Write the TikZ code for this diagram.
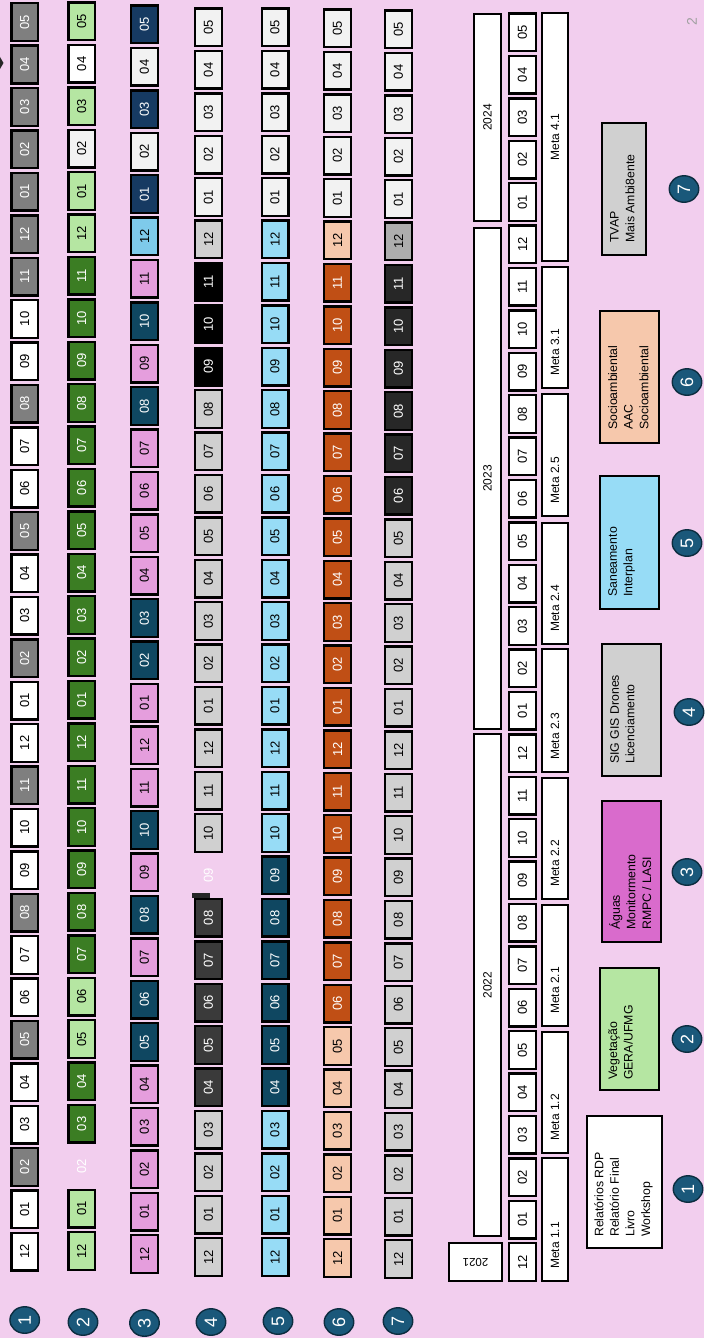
\documentclass[tikz,border=0pt]{standalone}
\usepackage{fontspec}
\setmainfont{Liberation Sans}
\usetikzlibrary{shapes.geometric}

\definecolor{bgpink}{RGB}{242,206,238}
\definecolor{cgray}{RGB}{127,127,127}
\definecolor{clgreen}{RGB}{181,230,162}
\definecolor{cdgreen}{RGB}{59,125,35}
\definecolor{cpink}{RGB}{229,158,221}
\definecolor{cdblue}{RGB}{15,71,97}
\definecolor{cnavy}{RGB}{22,58,98}
\definecolor{csky}{RGB}{126,202,235}
\definecolor{clgray}{RGB}{208,208,208}
\definecolor{cdgray}{RGB}{58,58,58}
\definecolor{coffw}{RGB}{242,242,242}
\definecolor{clblue}{RGB}{151,220,246}
\definecolor{cpeach}{RGB}{246,200,172}
\definecolor{corange}{RGB}{192,79,21}
\definecolor{cdark}{RGB}{39,39,39}
\definecolor{cmgray}{RGB}{173,173,173}
\definecolor{cmagenta}{RGB}{217,107,204}
\definecolor{cteal}{RGB}{26,88,122}
\definecolor{cteald}{RGB}{12,45,64}
\definecolor{cpage}{RGB}{160,160,160}

% one row of months: name, x, bottom y, fill styles
\newcommand{\monthcol}[4]{%
  \foreach \s [count=\k from 0] in {#4} {
    \pgfmathtruncatemacro{\mo}{mod(\k+11,12)+1}
    \node[cell, \s] (#1-\k) at (#2, {#3-42.4*\k-20}) {\ifnum\mo<10 0\fi\mo};
  }%
}

\begin{document}
\begin{tikzpicture}[x=1pt, y=-1pt,
  cell/.style={draw=black, line width=2.4pt, rotate=90, minimum width=37.6pt,
    minimum height=26.6pt, inner sep=0pt, font=\fontsize{13}{13}\selectfont},
  wht/.style={fill=white}, gry/.style={fill=cgray, text=white},
  lgrn/.style={fill=clgreen}, dgrn/.style={fill=cdgreen, text=white},
  pnk/.style={fill=cpink}, dblu/.style={fill=cdblue, text=white},
  nvy/.style={fill=cnavy, text=white}, sky/.style={fill=csky},
  lgry/.style={fill=clgray}, dgry/.style={fill=cdgray, text=white},
  blk/.style={fill=black, text=white}, offw/.style={fill=coffw},
  lblu/.style={fill=clblue}, pch/.style={fill=cpeach},
  orng/.style={fill=corange, text=white}, drk/.style={fill=cdark, text=white},
  mgry/.style={fill=cmgray}, nobox/.style={draw=none, text=white},
  yearbar/.style={draw=black, line width=2.4pt, fill=white, rotate=90,
    minimum height=26.6pt, inner sep=0pt, font=\fontsize{12}{12}\selectfont},
  metabox/.style={draw=black, line width=2.4pt, fill=white, minimum width=25.6pt, inner sep=0pt},
  metatxt/.style={rotate=90, anchor=west, inner sep=0pt, font=\fontsize{12}{12}\selectfont},
  legbox/.style={draw=black, line width=2.4pt, inner sep=0pt},
  legtxt/.style={rotate=90, anchor=north west, align=left, inner sep=0pt,
    font=\fontsize{12.3}{15.6}\selectfont},
  numcirc/.style={ellipse, draw=cteald, line width=1.4pt, fill=cteal, text=white,
    rotate=90, minimum width=26.5pt, minimum height=29.5pt, inner sep=0pt,
    font=\fontsize{18}{18}\selectfont}]
  \useasboundingbox (0,0) rectangle (704,1338);
  \fill[bgpink] (0,0) rectangle (704,1338);

  % month rows
  \monthcol{a}{24.7}{1271.7}{wht,wht,gry,wht,wht,gry,wht,wht,gry,wht,wht,gry,wht,wht,gry,wht,wht,gry,wht,wht,gry,wht,wht,gry,gry,gry,gry,gry,gry,gry}
  \monthcol{b}{81.7}{1271}{lgrn,lgrn,nobox,dgrn,dgrn,lgrn,lgrn,dgrn,dgrn,dgrn,dgrn,dgrn,dgrn,dgrn,dgrn,dgrn,dgrn,dgrn,dgrn,dgrn,dgrn,dgrn,dgrn,dgrn,lgrn,lgrn,offw,lgrn,wht,lgrn}
  \monthcol{c}{144.5}{1274}{pnk,pnk,pnk,pnk,pnk,dblu,dblu,pnk,dblu,pnk,dblu,pnk,pnk,pnk,dblu,dblu,pnk,pnk,pnk,pnk,dblu,pnk,dblu,pnk,sky,nvy,offw,nvy,offw,nvy}
  \monthcol{d}{208.5}{1277}{lgry,lgry,lgry,lgry,dgry,dgry,dgry,dgry,dgry,nobox,lgry,lgry,lgry,lgry,lgry,lgry,lgry,lgry,lgry,lgry,lgry,blk,blk,blk,lgry,offw,offw,offw,offw,offw}
  \monthcol{e}{275}{1277}{lblu,lblu,lblu,lblu,dblu,dblu,dblu,dblu,dblu,dblu,lblu,lblu,lblu,lblu,lblu,lblu,lblu,lblu,lblu,lblu,lblu,lblu,lblu,lblu,lblu,offw,offw,offw,offw,offw}
  \monthcol{f}{337.5}{1278}{pch,pch,pch,pch,pch,pch,orng,orng,orng,orng,orng,orng,orng,orng,orng,orng,orng,orng,orng,orng,orng,orng,orng,orng,pch,offw,offw,offw,offw,offw}
  \monthcol{g}{398.5}{1279}{lgry,lgry,lgry,lgry,lgry,lgry,lgry,lgry,lgry,lgry,lgry,lgry,lgry,lgry,lgry,lgry,lgry,lgry,drk,drk,drk,drk,drk,drk,mgry,offw,offw,offw,offw,offw}
  \monthcol{m}{522.5}{1282}{wht,wht,wht,wht,wht,wht,wht,wht,wht,wht,wht,wht,wht,wht,wht,wht,wht,wht,wht,wht,wht,wht,wht,wht,wht,wht,wht,wht,wht,wht}
  \fill[black!85] (192,893) rectangle (210,897.5);
  \fill[black!85] (0,57) -- (3.5,63) -- (0,69) -- cycle;

  % years
  \node[draw=black, line width=2.4pt, fill=white, rotate=180, minimum width=52.6pt,
    minimum height=37.6pt, inner sep=0pt, font=\fontsize{11.5}{11.5}\selectfont] (y21) at (475.5,1262) {2021};
  \node[yearbar, minimum width=501.6pt] (y22) at (487.5,985) {2022};
  \node[yearbar, minimum width=500.6pt] (y23) at (487.5,478.5) {2023};
  \node[yearbar, minimum width=206.6pt] (y24) at (487.5,117.5) {2024};

  % metas
  \node[metabox, minimum height=122.6pt] (m11) at (555,1219.5) {};
  \node[metabox, minimum height=120.6pt] (m12) at (555,1092.5) {};
  \node[metabox, minimum height=120.6pt] (m21) at (555,965.5) {};
  \node[metabox, minimum height=120.6pt] (m22) at (555,838.5) {};
  \node[metabox, minimum height=122.6pt] (m23) at (555,710.5) {};
  \node[metabox, minimum height=120.6pt] (m24) at (555,583.5) {};
  \node[metabox, minimum height=121.6pt] (m25) at (555,455) {};
  \node[metabox, minimum height=120.6pt] (m31) at (555,327.5) {};
  \node[metabox, minimum height=247.6pt] (m41) at (555,137) {};
  \node[metatxt] (m11-t) at (555,1269) {Meta 1.1};
  \node[metatxt] (m12-t) at (555,1141) {Meta 1.2};
  \node[metatxt] (m21-t) at (555,1014) {Meta 2.1};
  \node[metatxt] (m22-t) at (555,887) {Meta 2.2};
  \node[metatxt] (m23-t) at (555,760) {Meta 2.3};
  \node[metatxt] (m24-t) at (555,632) {Meta 2.4};
  \node[metatxt] (m25-t) at (555,504) {Meta 2.5};
  \node[metatxt] (m31-t) at (555,376) {Meta 3.1};
  \node[metatxt, anchor=center] (m41-t) at (555,137) {Meta 4.1};

  % legend
  \node[legbox, fill=white, minimum width=74.5pt, minimum height=131.5pt] (leg1) at (624.5,1182) {};
  \node[legbox, fill=clgreen, minimum width=58.5pt, minimum height=121.5pt] (leg2) at (629.5,1029) {};
  \node[legbox, fill=cmagenta, minimum width=58.5pt, minimum height=140.5pt] (leg3) at (631.5,871.5) {};
  \node[legbox, fill=clgray, minimum width=58.5pt, minimum height=131.5pt] (leg4) at (631.5,710) {};
  \node[legbox, fill=clblue, minimum width=58.5pt, minimum height=132.5pt] (leg5) at (629.5,542.5) {};
  \node[legbox, fill=cpeach, minimum width=58.5pt, minimum height=131.5pt] (leg6) at (629.5,377) {};
  \node[legbox, fill=clgray, minimum width=43.5pt, minimum height=131.5pt] (leg7) at (624,189) {};
  \node[legtxt] (leg1-t) at (594,1237) {Relatórios RDP\\Relatório Final\\Livro\\Workshop};
  \node[legtxt] (leg2-t) at (608,1080) {Vegetação\\GERA/UFMG};
  \node[legtxt] (leg3-t) at (609,930) {Águas\\Monitormento\\RMPC / LASI};
  \node[legtxt] (leg4-t) at (610,764) {SIG GIS Drones\\Licenciamento};
  \node[legtxt] (leg5-t) at (608,597) {Saneamento\\Interplan};
  \node[legtxt] (leg6-t) at (608,430) {Socioambiental\\AAC\\Socioambiental};
  \node[legtxt] (leg7-t) at (610,243) {TVAP\\Mais Ambi8ente};

  % numbers
  \node[numcirc] (r1) at (24.7,1320) {1};
  \node[numcirc] (r2) at (83,1322) {2};
  \node[numcirc] (r3) at (144.5,1323) {3};
  \node[numcirc] (r4) at (211,1322) {4};
  \node[numcirc] (r5) at (278,1321) {5};
  \node[numcirc] (r6) at (339,1322) {6};
  \node[numcirc] (r7) at (398,1321) {7};
  \node[numcirc] (l1) at (688,1189) {1};
  \node[numcirc] (l2) at (687,1039) {2};
  \node[numcirc] (l3) at (687,872) {3};
  \node[numcirc] (l4) at (689,712) {4};
  \node[numcirc] (l5) at (687,543) {5};
  \node[numcirc] (l6) at (687,382) {6};
  \node[numcirc] (l7) at (684,189) {7};
  \node[rotate=90, text=cpage, inner sep=0pt, font=\fontsize{14}{14}\selectfont] (pg) at (692,22) {2};
\end{tikzpicture}
\end{document}
